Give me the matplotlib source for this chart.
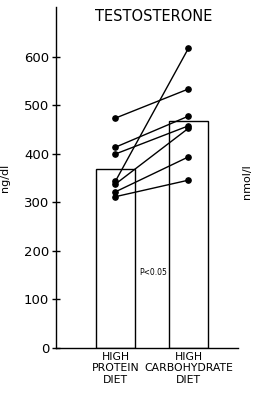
import matplotlib
matplotlib.use('Agg')
import matplotlib.pyplot as plt

# data
diets = ['HIGH\nPROTEIN\nDIET', 'HIGH\nCARBOHYDRATE\nDIET']
means = [369, 468]
protein = [474, 414, 400, 344, 338, 322, 312]
carb = [534, 478, 458, 618, 453, 394, 346]
yticks = [0, 100, 200, 300, 400, 500, 600]

plt.rcParams['font.family'] = 'DejaVu Sans'

fig = plt.figure(figsize=(2.56, 4.0), dpi=100)
ax = fig.add_axes([0.219, 0.13, 0.711, 0.8525])

xpos = [1, 2]
ax.bar(xpos, means, width=0.53, facecolor='white', edgecolor='black',
       linewidth=1.0, zorder=1)

for a, b in zip(protein, carb):
    ax.plot(xpos, [a, b], color='black', lw=1.0, marker='o', ms=3.8, zorder=3)

ax.set_xlim(0.186, 2.68)
ax.set_ylim(0, 703)
ax.set_yticks(yticks)
ax.set_yticklabels([str(t) for t in yticks], fontsize=9.5)
ax.set_xticks(xpos)
ax.set_xticklabels(diets, fontsize=7.8, linespacing=1.15)
ax.get_xticklabels()[1].set_x(2.1)
ax.tick_params(axis='x', length=0, pad=3)
ax.tick_params(axis='y', direction='inout', length=6, width=1, pad=2)

for s in ['top', 'right']:
    ax.spines[s].set_visible(False)
for s in ['left', 'bottom']:
    ax.spines[s].set_linewidth(1.0)

ax.set_ylabel('ng/dl', fontsize=8, labelpad=10)
ax.text(1.51, 155, 'P<0.05', fontsize=5.5, ha='center', va='center')
fig.text(0.965, 0.545, 'nmol/l', rotation=90, fontsize=8,
         ha='center', va='center')
fig.text(0.6, 0.958, 'TESTOSTERONE', fontsize=10.5, ha='center', va='center')

fig.savefig('out.png', dpi=100)
